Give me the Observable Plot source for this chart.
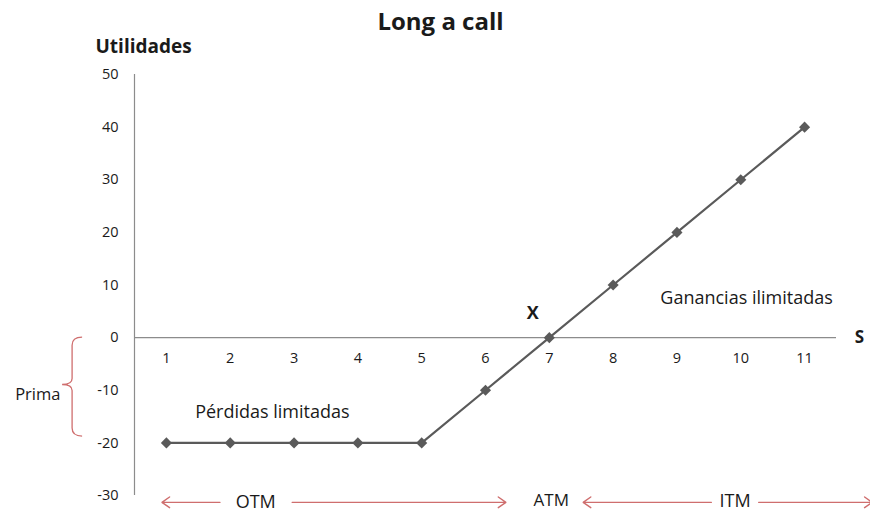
<!DOCTYPE html>
<html><head><meta charset="utf-8">
<script src="https://cdn.jsdelivr.net/npm/d3@7"></script>
<script src="https://cdn.jsdelivr.net/npm/@observablehq/plot@0.6"></script>
<style>body{margin:0;background:#fff;font-family:"Open Sans","Noto Sans",sans-serif;}</style>
</head><body><div id="chart"></div>
<script>
const prices = [1, 2, 3, 4, 5, 6, 7, 8, 9, 10, 11];
const profits = [-20, -20, -20, -20, -20, -10, 0, 10, 20, 30, 40];
const yTicks = [-30, -20, -10, 0, 10, 20, 30, 40, 50];
const title = "Long a call";
const yLabel = "Utilidades";
const xLabel = "S";
const strikeLabel = "X";
const gainLabel = "Ganancias ilimitadas";
const lossLabel = "Pérdidas limitadas";
const premiumLabel = "Prima";
const zoneLabels = ["OTM", "ATM", "ITM"];

const data = prices.map((s, i) => ({s, p: profits[i]}));
const red = "#cf6e6e";
const ink = "#1a1a1a";

const brace = (index, scales) => {
  const x = scales.x, y = scales.y;
  const xs = x(-0.47), xe = xs + 10, xt = xs - 10;
  const y0 = y(0), y1 = y(-18.8), ym = y(-9);
  const g = d3.create("svg:g");
  g.append("path")
    .attr("fill", "none").attr("stroke", red).attr("stroke-width", 1.3)
    .attr("d", `M${xe},${y0} Q${xs},${y0} ${xs},${y0+8} L${xs},${ym-6} Q${xs},${ym} ${xt},${ym} Q${xs},${ym} ${xs},${ym+6} L${xs},${y1-8} Q${xs},${y1} ${xe},${y1}`);
  return g.node();
};

const plot = Plot.plot({
  width: 870, height: 512,
  marginLeft: 134, marginRight: 34, marginTop: 74, marginBottom: 17,
  style: {fontFamily: "'Open Sans', 'Noto Sans', sans-serif", fontSize: "14px", color: ink, background: "#fff"},
  x: {domain: [0.5, 11.5], axis: null},
  y: {domain: [-30, 50], axis: null},
  marks: [
    Plot.axisY(yTicks, {tickSize: 0, tickPadding: 16, fontSize: 14.5, label: null, fill: ink, tickFormat: d => String(d)}),
    Plot.ruleX([0.5], {y1: -30, y2: 50, stroke: "#8c8c8c", strokeWidth: 1.2}),
    Plot.ruleY([0], {stroke: "#8c8c8c", strokeWidth: 1.2}),
    Plot.text(prices, {x: d => d, y: 0, dy: 21, text: d => String(d), fontSize: 14.5, fill: ink}),
    Plot.line(data, {x: "s", y: "p", stroke: "#5a5a5a", strokeWidth: 2.2}),
    Plot.dot(data, {x: "s", y: "p", symbol: "diamond2", r: 5, fill: "#5a5a5a", stroke: "none"}),
    Plot.text([title], {frameAnchor: "top", lineAnchor: "middle", dx: -45, dy: -52, text: d => d, fontSize: 24, fontWeight: "bold", fill: ink}),
    Plot.text([yLabel], {frameAnchor: "top-left", lineAnchor: "middle", dx: -39, dy: -28, text: d => d, fontSize: 19, fontWeight: "bold", textAnchor: "start", fill: ink}),
    Plot.text([xLabel], {x: 11.86, y: 0, text: d => d, fontSize: 17, fontWeight: "bold", fill: ink}),
    Plot.text([strikeLabel], {x: 6.74, y: 4.7, text: d => d, fontSize: 18, fontWeight: "bold", fill: ink}),
    Plot.text([gainLabel], {x: 10.09, y: 7.5, text: d => d, fontSize: 18, fill: ink}),
    Plot.text([lossLabel], {x: 2.66, y: -14.2, text: d => d, fontSize: 18, fill: ink}),
    Plot.text([premiumLabel], {x: -0.66, y: -10.8, text: d => d, fontSize: 16.5, textAnchor: "end", fill: ink}),
    brace,
    Plot.arrow([{a: 1.84, b: 0.93}, {a: 2.97, b: 6.32}, {a: 9.54, b: 7.53}, {a: 10.28, b: 12.06}],
      {x1: "a", x2: "b", y1: -31.3, y2: -31.3, stroke: red, strokeWidth: 1.4, headLength: 10, headAngle: 70, inset: 0}),
    Plot.text([zoneLabels[0]], {x: 2.4, y: -31.3, text: d => d, fontSize: 18, fill: ink}),
    Plot.text([zoneLabels[1]], {x: 7.03, y: -30.9, text: d => d, fontSize: 17, fill: ink}),
    Plot.text([zoneLabels[2]], {x: 9.91, y: -31.1, text: d => d, fontSize: 18, fill: ink})
  ]
});
document.getElementById("chart").appendChild(plot);
</script></body></html>
